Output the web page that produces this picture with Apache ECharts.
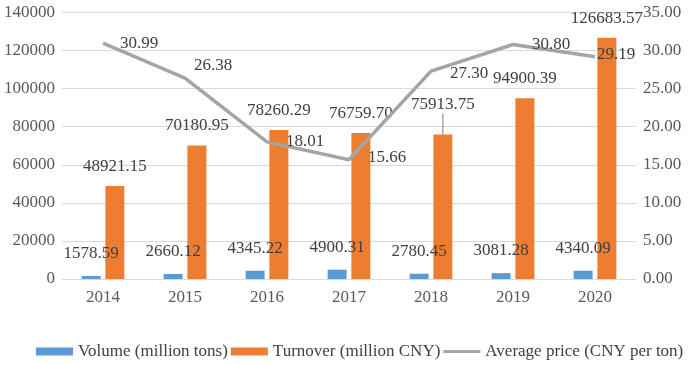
<!DOCTYPE html>
<html>
<head>
<meta charset="utf-8">
<script src="https://cdn.jsdelivr.net/npm/echarts@6/dist/echarts.min.js"></script>
<style>html,body{margin:0;padding:0;background:#fff;}#c{width:692px;height:365px;}</style>
</head>
<body>
<div id="c"></div>
<script>
const years = ['2014','2015','2016','2017','2018','2019','2020'];
const volume = [1578.59, 2660.12, 4345.22, 4900.31, 2780.45, 3081.28, 4340.09];
const turnover = [48921.15, 70180.95, 78260.29, 76759.70, 75913.75, 94900.39, 126683.57];
const price = [30.99, 26.38, 18.01, 15.66, 27.30, 30.80, 29.19];
const leftTicks = [0, 140000, 20000];
const rightTicks = [0, 35, 5];

const FONT = '"Liberation Serif", "Times New Roman", serif';
const chart = echarts.init(document.getElementById('c'));

const priceLabelOffsets = [[-2,0],[-10,-13],[0,0],[0,-2],[0,2],[0,0],[-17,-2]];

chart.setOption({
  animation: false,
  textStyle: {fontFamily: FONT},
  grid: {left: 62, right: 56, top: 12.5, bottom: 86, containLabel: false},
  legend: {
    bottom: 0, left: 31,
    itemWidth: 37, itemHeight: 8, itemGap: 3,
    textStyle: {fontFamily: FONT, fontSize: 17, color: '#404040'},
    data: [
      {name: 'Volume (million tons)', icon: 'rect'},
      {name: 'Turnover (million CNY)', icon: 'rect'},
      {name: 'Average price (CNY per ton)', icon: 'path://M0 0H40V3H0Z', itemStyle: {color: '#A5A5A5'}}
    ]
  },
  xAxis: {
    type: 'category', data: years,
    axisLine: {lineStyle: {color: '#D9D9D9', width: 1}},
    axisTick: {show: false},
    axisLabel: {fontFamily: FONT, fontSize: 17, color: '#595959', margin: 10}
  },
  yAxis: [
    {type: 'value', min: leftTicks[0], max: leftTicks[1], interval: leftTicks[2],
     axisLine: {show: false}, axisTick: {show: false},
     splitLine: {lineStyle: {color: '#D9D9D9', width: 1}},
     axisLabel: {fontFamily: FONT, fontSize: 17, color: '#595959', margin: 7, formatter: v => String(v)}},
    {type: 'value', min: rightTicks[0], max: rightTicks[1], interval: rightTicks[2],
     axisLine: {show: false}, axisTick: {show: false}, splitLine: {show: false},
     axisLabel: {fontFamily: FONT, fontSize: 17, color: '#595959', margin: 7,
       formatter: v => v.toFixed(2)}}
  ],
  series: [
    {name: 'Volume (million tons)', type: 'bar', data: volume, barWidth: 19, barGap: '25%',
     itemStyle: {color: '#5B9BD5'},
     label: {show: true, position: 'top', distance: 14, fontFamily: FONT, fontSize: 17, color: '#404040',
       formatter: p => p.value.toFixed(2)}},
    {name: 'Turnover (million CNY)', type: 'bar',
     data: turnover.map((v, i) => i === 4 ? {value: v, labelLine: {show: true}} : {value: v, labelLine: {show: false}}),
     barWidth: 19,
     itemStyle: {color: '#ED7D31'},
     label: {show: true, position: 'top', distance: 11, fontFamily: FONT, fontSize: 17, color: '#404040',
       formatter: p => p.value.toFixed(2)},
     labelLine: {show: false, lineStyle: {color: '#7F7F7F', width: 1}},
     labelLayout: p => p.dataIndex === 4 ? {dy: -10} : {}},
    {name: 'Average price (CNY per ton)', type: 'line', yAxisIndex: 1, data: price.map((v, i) => ({
        value: v,
        label: {offset: priceLabelOffsets[i]}
      })),
     symbol: 'circle', symbolSize: 0.1, showSymbol: true,
     lineStyle: {color: '#A5A5A5', width: 3.5}, itemStyle: {color: '#A5A5A5'},
     label: {show: true, position: 'right', distance: 19, fontFamily: FONT, fontSize: 17, color: '#404040',
       formatter: p => p.value.toFixed(2)}}
  ]
});
</script>
</body>
</html>
